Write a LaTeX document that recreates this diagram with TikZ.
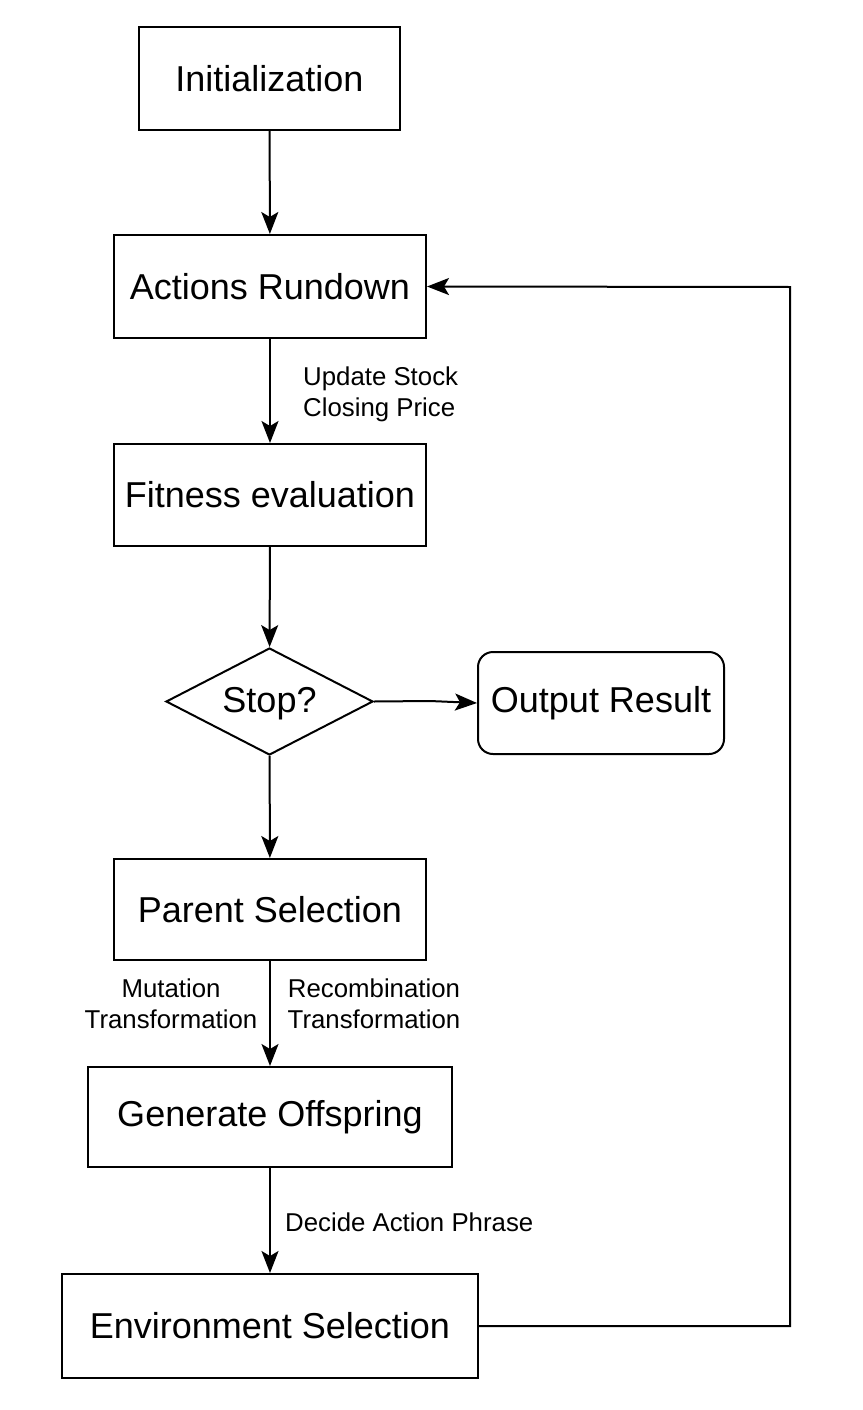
\documentclass[tikz,border=0pt]{standalone}
\usepackage{fontspec}
\setmainfont{Liberation Sans}
\usetikzlibrary{shapes.geometric,arrows.meta}
\begin{document}
\begin{tikzpicture}[x=1pt,y=-1pt,
  box/.style={draw,line width=2pt,inner sep=0pt,font=\fontsize{36}{42}\selectfont},
  lbl/.style={font=\fontsize{25.8}{31}\selectfont,inner sep=0pt},
  arr/.style={draw,line width=2pt,-{Stealth[length=22pt,width=17pt,inset=5pt]}}]
\useasboundingbox (0,0) rectangle (862,1410);
\node[box,minimum width=261pt,minimum height=103pt] (init) at (269.5,78.5) {Initialization};
\node[box,minimum width=312pt,minimum height=103pt] (act) at (270,286.5) {Actions Rundown};
\node[box,minimum width=312pt,minimum height=102pt] (fit) at (270,495) {Fitness evaluation};
\node[box,diamond,aspect=1.93,minimum width=207pt,minimum height=107pt] (stop) at (269.5,701.5) {};
\node[font=\fontsize{36}{42}\selectfont] at (269.5,704) {Stop?};
\node[box,rounded corners=15pt,minimum width=246pt,minimum height=102pt] (out) at (601,703) {Output Result};
\node[box,minimum width=312pt,minimum height=101pt] (par) at (270,909.5) {Parent Selection};
\node[box,minimum width=364pt,minimum height=100pt] (gen) at (270,1117) {Generate Offspring};
\node[box,minimum width=416pt,minimum height=104pt] (env) at (270,1326) {Environment Selection};
\draw[arr] (init) -- (act);
\draw[arr] (act) -- (fit);
\draw[arr] (fit) -- (stop);
\draw[arr] (stop.east) -- (430,701) -- (out.west);
\draw[arr] (stop) -- (par);
\draw[arr] (par) -- (gen);
\draw[arr] (gen) -- (env);
\coordinate (c1) at (790,1326);
\coordinate (c2) at (790,287);
\draw[arr] (env.east) -- (c1) -- (c2) -- (act.east);
\node[lbl,align=left,anchor=west] (l1) at (303,394) {Update Stock\\Closing Price};
\node[lbl,align=center] (l2) at (171,1004) {Mutation\\Transformation};
\node[lbl,align=center] (l3) at (374,1004) {Recombination\\Transformation};
\node[lbl,anchor=west] (l4) at (285,1222) {Decide Action Phrase};
\end{tikzpicture}
\end{document}
